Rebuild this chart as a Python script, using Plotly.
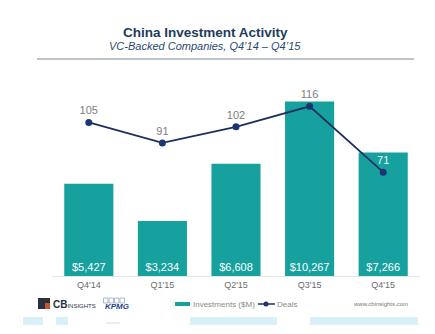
import plotly.graph_objects as go

quarters = ["Q4'14", "Q1'15", "Q2'15", "Q3'15", "Q4'15"]
investments = [5427, 3234, 6608, 10267, 7266]
deals = [105, 91, 102, 116, 71]

TEAL = "#16a19f"
NAVY = "#1b2f5e"
FONT = "Liberation Sans, Arial, sans-serif"

W, H = 435, 334
ML, MR, MT, MB = 52, 15, 72, 58
PW, PH = W - ML - MR, H - MT - MB


def px_x(v):
    # page pixel -> paper x
    return (v - ML) / PW


def px_y(v):
    # page pixel -> paper y
    return (H - MB - v) / PH


fig = go.Figure()

fig.add_trace(go.Bar(
    x=quarters, y=investments, name="Investments ($M)",
    marker=dict(color=TEAL, line=dict(width=0)),
    text=[f"${v:,}" for v in investments],
    textposition="inside", insidetextanchor="start",
    textfont=dict(color="white", size=11, family=FONT),
    yaxis="y",
))

fig.add_trace(go.Scatter(
    x=quarters, y=deals, name="Deals", mode="lines+markers+text",
    line=dict(color=NAVY, width=1.8),
    marker=dict(color="#1c3572", size=7),
    text=[str(v) for v in deals], textposition="top center",
    textfont=dict(color=["#7d7d7d"] * 4 + ["#e6fbfb"], size=11, family=FONT),
    yaxis="y2",
))

fig.update_layout(
    width=W, height=H,
    margin=dict(l=ML, r=MR, t=MT, b=MB),
    paper_bgcolor="white", plot_bgcolor="white",
    bargap=0.333,
    font=dict(family=FONT),
    xaxis=dict(showgrid=False, showline=True, linecolor="#e4e6e8", linewidth=1,
               tickfont=dict(size=9, color="#6b6b6b"), ticks=""),
    yaxis=dict(range=[0, 12000], visible=False, showgrid=False),
    yaxis2=dict(range=[0, 139.5], overlaying="y", visible=False, showgrid=False),
    showlegend=False,
)


def ann(text, x, y, size, color, anchor="left", **kw):
    fig.add_annotation(text=text, xref="paper", yref="paper", x=px_x(x), y=px_y(y),
                       showarrow=False, xanchor=anchor, yanchor="middle",
                       font=dict(size=size, color=color, family=FONT), **kw)


def rect(x0, x1, y0, y1, fill, line=None):
    fig.add_shape(type="rect", xref="paper", yref="paper",
                  x0=px_x(x0), x1=px_x(x1), y0=px_y(y1), y1=px_y(y0),
                  fillcolor=fill, line=line or dict(width=0))


def hline(x0, x1, y, color, width=1):
    fig.add_shape(type="line", xref="paper", yref="paper",
                  x0=px_x(x0), x1=px_x(x1), y0=px_y(y), y1=px_y(y),
                  line=dict(color=color, width=width))


# Title block
ann("<b>China Investment Activity</b>", 205, 32, 13.5, "#223d5c", anchor="center")
ann("<i>VC-Backed Companies, Q4\u201914 \u2013 Q4\u201915</i>", 205, 45.5, 11, "#2b4a72", anchor="center")
hline(37, 414, 59, "#7d8896")

# Legend
rect(175, 190, 302, 306, TEAL)
ann(fig.data[0].name, 191, 304, 8, "#8a8a8a")
hline(258, 275, 304, NAVY, 1.5)
fig.add_shape(type="circle", xref="paper", yref="paper",
              x0=px_x(263.5), x1=px_x(268.5), y0=px_y(306.5), y1=px_y(301.5),
              fillcolor="#1c3572", line=dict(width=0))
ann(fig.data[1].name, 275, 304, 8, "#8a8a8a")

# CB Insights logo
rect(38, 50, 298, 309, "#2a3240")
rect(45, 50, 303, 309, "#c8552f")
ann("<b>CB</b><span style='font-size:6px'>INSIGHTS</span>", 51, 304, 10, "#2a3240")
# KPMG logo
for bx in range(4):
    rect(103.5 + bx * 5.5, 108 + bx * 5.5, 298, 303, "white", dict(color="#9aa8c8", width=0.8))
ann("<b><i>KPMG</i></b>", 103, 306.5, 8, "#1f3f8f")
# Source URL
ann("www.cbinsights.com", 410, 304, 6, "#777777", anchor="right")

# Faint strip along the bottom edge
for x0, x1 in [(23, 43), (56, 68), (190, 277), (310, 418)]:
    rect(x0, x1, 317, 325, "#daf0f8")
hline(106, 120, 323, "#d8dadd")

fig.write_html("out.html")
